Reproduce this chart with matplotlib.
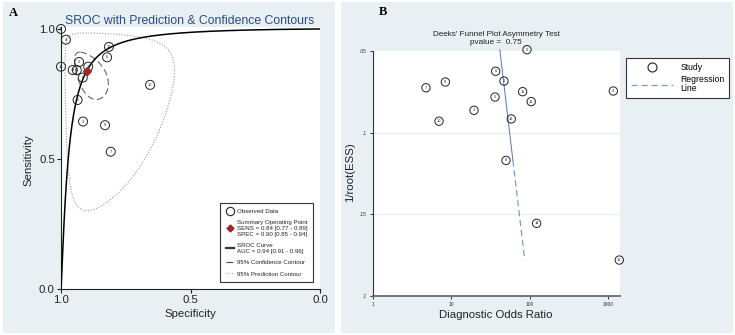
import numpy as np
import matplotlib
matplotlib.use("Agg")
import matplotlib.pyplot as plt
from matplotlib.lines import Line2D
from matplotlib.patches import Rectangle

plt.rcParams['font.family'] = ['Liberation Sans', 'DejaVu Sans']

# ---- study-level data (studies 1..15) ----
study_ids = list(range(1, 16))
sensitivity = [0.855, 0.873, 0.644, 0.959, 0.727, 0.891, 0.528, 0.813,
               0.630, 0.785, 0.842, 0.931, 0.842, 0.855, 1.000]
specificity = [0.895, 0.930, 0.915, 0.981, 0.936, 0.822, 0.808, 0.916,
               0.830, 0.656, 0.939, 0.815, 0.955, 1.000, 1.000]
diag_odds_ratio = [47.1, 92.7, 19.5, 1175, 36.2, 36.9, 4.75, 50.0,
                   8.4, 6.97, 81.6, 58.4, 105, 123, 1400]
inv_root_ess = [0.0684, 0.0492, 0.0863, 0.0745, 0.0782, 0.0624, 0.0725, 0.117,
                0.069, 0.093, 0.0749, 0.0916, 0.081, 0.1555, 0.178]

# ---- pooled (bivariate) model ----
summary_sens = 0.84
summary_spec = 0.90
sroc_slope = 1.22            # slope of logit(sens) on logit(1 - spec)
conf_sd = (0.67, 0.70)       # confidence region half-widths, logit sens / logit spec
conf_rho = 0.5
pred_sd = (2.5, 1.95)        # prediction region half-widths, logit sens / logit spec
pred_rho = 0.0

legend_labels_a = [
    "Observed Data",
    "Summary Operating Point\nSENS = 0.84 [0.77 - 0.89]\nSPEC = 0.90 [0.85 - 0.94]",
    "SROC Curve\nAUC = 0.94 [0.91 - 0.96]",
    "95% Confidence Contour",
    "95% Prediction Contour",
]

# ---- Deeks' funnel plot regression ----
deeks_intercept = 1.498      # log10(DOR) at 1/root(ESS) = 0
deeks_slope = 2.474
deeks_p = 0.75

bg = '#e9f0f3'
W, H = 735, 335


def logit(p):
    return np.log(p / (1 - p))


def expit(x):
    return 1 / (1 + np.exp(-x))


def logit_contour(sd_sens, sd_spec, rho, n=300):
    t = np.linspace(0, 2 * np.pi, n)
    u, v = np.cos(t), np.sin(t)
    ls = logit(summary_sens) + sd_sens * u
    lp = logit(summary_spec) + sd_spec * (rho * u + np.sqrt(1 - rho ** 2) * v)
    return expit(lp), expit(ls)


def fx(px):
    return px / W


def fy(py):
    return 1 - py / H


fig = plt.figure(figsize=(7.35, 3.35), dpi=100)
fig.patch.set_facecolor('white')
fig.patches.append(Rectangle((fx(3), fy(333)), fx(335) - fx(3), fy(2) - fy(333),
                             transform=fig.transFigure, fc=bg, ec='none', zorder=-10))
fig.patches.append(Rectangle((fx(341), fy(333)), fx(733) - fx(341), fy(2) - fy(333),
                             transform=fig.transFigure, fc=bg, ec='none', zorder=-10))

# =================== Panel A: SROC ===================
ax = fig.add_axes([fx(61), fy(289), fx(320) - fx(61), fy(26.9) - fy(289)])
ax.set_facecolor('white')
ax.set_xlim(1.0, 0.0)
ax.set_ylim(0.0, 1.008)
for s in ['top', 'right']:
    ax.spines[s].set_visible(False)
for s in ['left', 'bottom']:
    ax.spines[s].set_linewidth(0.8)
    ax.spines[s].set_color('#222222')

# SROC curve
fpr = np.concatenate([np.logspace(-7, -1, 400), np.linspace(0.1, 0.99999, 600)])
sroc_sens = expit(logit(summary_sens) + sroc_slope * (logit(fpr) - logit(1 - summary_spec)))
ax.plot(1 - fpr, sroc_sens, color='black', lw=1.1, zorder=3)

# prediction and confidence regions
px_, py_ = logit_contour(pred_sd[0], pred_sd[1], pred_rho)
ax.plot(px_, py_, color='#9a9a9a', lw=0.8, ls=(0, (1, 1.5)), zorder=2)
cx_, cy_ = logit_contour(conf_sd[0], conf_sd[1], conf_rho)
ax.plot(cx_, cy_, color='#666666', lw=0.8, ls=(0, (6, 3)), zorder=2)

# observed studies
ax.scatter(specificity, sensitivity, s=42, facecolors='none', edgecolors='#222222',
           linewidths=0.7, zorder=4, clip_on=False)
for sid, xs, ys in zip(study_ids, specificity, sensitivity):
    ax.text(xs, ys, str(sid), fontsize=2.8, ha='center', va='center', zorder=5,
            color='#222222')

# summary operating point
ax.plot(summary_spec, summary_sens, marker='D', color='#a3262a', ms=4.5, zorder=6,
        ls='none')

ax.set_xticks([1.0, 0.5, 0.0])
ax.set_xticklabels(['1.0', '0.5', '0.0'])
ax.set_yticks([0.0, 0.5, 1.0])
ax.set_yticklabels(['0.0', '0.5', '1.0'])
ax.tick_params(axis='both', labelsize=8.2, length=3, width=0.8, color='#222222',
               pad=1.5, labelcolor='#222222')

handles_a = [
    Line2D([], [], marker='o', ls='none', mfc='none', mec='#222222', ms=6, mew=0.8),
    Line2D([], [], marker='D', ls='none', color='#a3262a', ms=3.5),
    Line2D([], [], color='#333333', lw=1.6),
    Line2D([], [], color='#444444', lw=0.8, ls=(0, (6, 3))),
    Line2D([], [], color='#aaaaaa', lw=0.8, ls=(0, (1, 1.5))),
]
leg_a = ax.legend(handles_a, legend_labels_a, loc='lower right',
                  bbox_to_anchor=(0.985, 0.015), fontsize=4.4, frameon=True,
                  fancybox=False, edgecolor='#333333', framealpha=1,
                  handlelength=1.3, handletextpad=0.5, borderpad=0.9,
                  labelspacing=1.0)
leg_a.get_frame().set_linewidth(0.8)
for t in leg_a.get_texts():
    t.set_linespacing(1.2)
    t.set_color('#222222')

fig.text(fx(190), fy(21), 'SROC with Prediction & Confidence Contours',
         fontsize=8.8, color='#2b4a8c', ha='center', va='center')
fig.text(fx(190), fy(314), 'Specificity', fontsize=8.2, ha='center', va='center',
         color='#222222')
fig.text(fx(28), fy(160), 'Sensitivity', fontsize=8.2, ha='center', va='center',
         rotation=90, color='#222222')
fig.text(fx(13), fy(13), 'A', family=['Liberation Serif', 'DejaVu Serif'],
         fontweight='bold', fontsize=9, ha='center', va='center')

# =================== Panel B: Deeks' funnel plot ===================
ax2 = fig.add_axes([fx(373), fy(296), fx(620) - fx(373), fy(51) - fy(296)])
ax2.set_facecolor('white')
ax2.set_xscale('log')
ax2.set_xlim(1, 1430)
ax2.set_ylim(0.2, 0.05)
for s in ['top', 'right']:
    ax2.spines[s].set_visible(False)
ax2.spines['left'].set_color('#333333')
ax2.spines['left'].set_linewidth(0.8)
ax2.spines['bottom'].set_color('#6a6a6a')
ax2.spines['bottom'].set_linewidth(1.3)

for gy in [0.1, 0.15]:
    ax2.axhline(gy, color='#e4ecef', lw=0.8, zorder=0)

ax2.set_xticks([1, 10, 100, 1000])
ax2.set_xticklabels(['1', '10', '100', '1000'])
ax2.minorticks_off()
ax2.set_yticks([0.05, 0.1, 0.15, 0.2])
ax2.set_yticklabels(['.05', '.1', '.15', '.2'])
ax2.tick_params(axis='both', labelsize=3.5, length=2.5, width=0.7, color='#333333',
                labelcolor='#333333', pad=2)

# regression line, solid across the larger studies and dashed toward the small ones
y_lo, y_hi = min(inv_root_ess), max(inv_root_ess)
y_split = 0.117
ya = np.array([y_lo, y_split])
yb = np.array([y_split, y_hi])
ax2.plot(10 ** (deeks_intercept + deeks_slope * ya), ya, color='#4f7cb0', lw=0.7,
         zorder=2, clip_on=False)
ax2.plot(10 ** (deeks_intercept + deeks_slope * yb), yb, color='#7a9cc4', lw=0.9,
         ls=(0, (5, 3)), zorder=2, clip_on=False)

ax2.scatter(diag_odds_ratio, inv_root_ess, s=36, facecolors='none',
            edgecolors='#222222', linewidths=0.7, zorder=4, clip_on=False)
for sid, xd, yd in zip(study_ids, diag_odds_ratio, inv_root_ess):
    ax2.text(xd, yd, str(sid), fontsize=2.8, ha='center', va='center', zorder=5,
             color='#222222')

handles_b = [
    Line2D([], [], marker='o', ls='none', mfc='none', mec='#222222', ms=6.5, mew=0.8),
    Line2D([], [], color='#7a9cc4', lw=0.9, ls=(0, (5, 3))),
]
leg_b = ax2.legend(handles_b, ['Study', 'Regression\nLine'], loc='upper left',
                   bbox_to_anchor=(1.008, 0.988), fontsize=6.2, frameon=True,
                   fancybox=False, edgecolor='#333333', framealpha=1,
                   handlelength=4.9, handletextpad=0.9, borderpad=0.5,
                   labelspacing=0.4)
leg_b.get_frame().set_linewidth(0.8)
for t in leg_b.get_texts():
    t.set_linespacing(1.05)

fig.text(fx(496), fy(38.5), "Deeks' Funnel Plot Asymmetry Test\npvalue =  %.2f" % deeks_p,
         fontsize=5.9, ha='center', va='center', linespacing=1.0, color='#222222')
fig.text(fx(496), fy(315), 'Diagnostic Odds Ratio', fontsize=8.2, ha='center',
         va='center', color='#222222')
fig.text(fx(350), fy(172), '1/root(ESS)', fontsize=8.2, ha='center', va='center',
         rotation=90, color='#222222')
fig.text(fx(383), fy(12), 'B', family=['Liberation Serif', 'DejaVu Serif'],
         fontweight='bold', fontsize=9, ha='center', va='center')

fig.savefig('out.png', dpi=100)
